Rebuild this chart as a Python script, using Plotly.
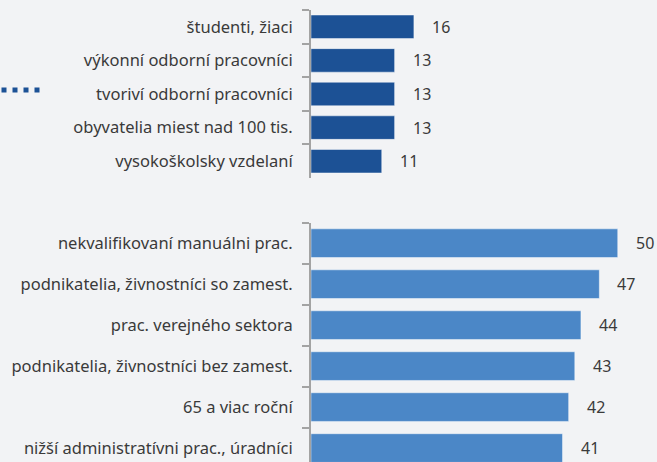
import plotly.graph_objects as go

top_labels = ["študenti, žiaci", "výkonní odborní pracovníci", "tvoriví odborní pracovníci",
              "obyvatelia miest nad 100 tis.", "vysokoškolsky vzdelaní"]
top_values = [16, 13, 13, 13, 11]

bottom_labels = ["nekvalifikovaní manuálni prac.", "podnikatelia, živnostníci so zamest.",
                 "prac. verejného sektora", "podnikatelia, živnostníci bez zamest.",
                 "65 a viac roční", "nižší administratívni prac., úradníci"]
bottom_values = [50, 47, 44, 43, 42, 41]

DARK = "#1c5195"
LIGHT = "#4b87c7"
BG = "#f2f3f5"
TXT = "#3a3a3a"
AXC = "#a3a3a3"
FONT = "Noto Sans"

W, H = 657, 462
ML, MT = 311, 10
PH = H - MT

fig = go.Figure()
fig.add_trace(go.Bar(y=top_labels, x=top_values, orientation="h", xaxis="x", yaxis="y",
                     marker=dict(color=DARK, line=dict(color="rgba(255,255,255,0.45)", width=1)),
                     hoverinfo="skip"))
fig.add_trace(go.Bar(y=bottom_labels, x=bottom_values, orientation="h", xaxis="x2", yaxis="y2",
                     marker=dict(color=LIGHT, line=dict(color="rgba(255,255,255,0.45)", width=1)),
                     hoverinfo="skip"))

annotations = []
for lab, v in zip(top_labels, top_values):
    annotations.append(dict(x=v, y=lab, xref="x", yref="y", text=str(v), showarrow=False,
                            xanchor="left", xshift=16, font=dict(size=16, color=TXT, family=FONT)))
for lab, v in zip(bottom_labels, bottom_values):
    annotations.append(dict(x=v, y=lab, xref="x2", yref="y2", text=str(v), showarrow=False,
                            xanchor="left", xshift=16, font=dict(size=16, color=TXT, family=FONT)))

top_h = 168
bot_top = 222.7 - MT
yaxis_common = dict(showline=True, linecolor=AXC, linewidth=2, ticks="outside", ticklen=7,
                    tickwidth=2, tickcolor=AXC, tickson="boundaries", showgrid=False,
                    zeroline=False, tickfont=dict(size=16.5, color=TXT, family=FONT),
                    ticklabelstandoff=13, automargin=False)
xaxis_common = dict(visible=False, showgrid=False, zeroline=False, automargin=False)

fig.update_layout(
    width=W, height=H,
    margin=dict(l=ML, r=0, t=MT, b=0, autoexpand=False),
    paper_bgcolor=BG, plot_bgcolor=BG,
    showlegend=False, bargap=0.3,
    font=dict(family=FONT, color=TXT),
    xaxis=dict(**xaxis_common, range=[0, 53.8], domain=[0, 1], anchor="y"),
    xaxis2=dict(**xaxis_common, range=[0, 56.4], domain=[0, 1], anchor="y2"),
    yaxis=dict(**yaxis_common, domain=[1 - top_h / PH, 1], range=[4.5, -0.5], anchor="x"),
    yaxis2=dict(**yaxis_common, domain=[0, 1 - bot_top / PH], range=[5.34, -0.5], anchor="x2"),
    annotations=annotations,
    shapes=[dict(type="line", xref="paper", yref="paper",
                 x0=(1.5 - ML) / (W - ML), x1=(40 - ML) / (W - ML),
                 y0=(H - 90) / PH, y1=(H - 90) / PH,
                 line=dict(color=DARK, width=5, dash="5px,6px"))],
)

fig.write_html("out.html", config={"displayModeBar": False},
               post_script="document.body.style.margin='0';document.body.style.background='%s';" % BG)
